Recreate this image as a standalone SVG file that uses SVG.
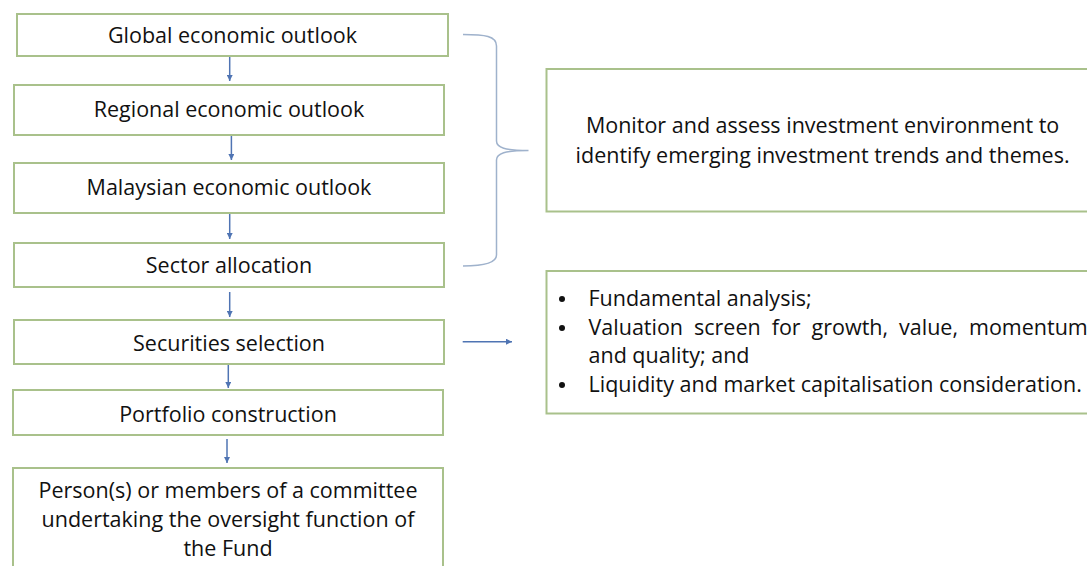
<svg xmlns="http://www.w3.org/2000/svg" width="1087" height="566" viewBox="0 0 1087 566">
  <style>
    .box { fill: #ffffff; stroke: #a9c18b; stroke-width: 2; }
    .t { font-family: "Open Sans", "Liberation Sans", sans-serif; font-size: 21.5px; fill: #111111; }
    .c { text-anchor: middle; }
    .dot { fill: #111111; }
    .conn { stroke: #4f74b3; stroke-width: 1.5; fill: none; marker-end: url(#ah); }
    .brace { stroke: #9fb2cc; stroke-width: 1.5; fill: none; }
  </style>
  <defs>
    <marker id="ah" viewBox="0 0 10 10" refX="10" refY="5" markerWidth="6" markerHeight="6" markerUnits="userSpaceOnUse" orient="auto">
      <path d="M0,0 L10,5 L0,10 z" fill="#4f74b3"/>
    </marker>
  </defs>
  <rect x="0" y="0" width="1087" height="566" fill="#ffffff"/>

  <g id="node-global">
    <rect class="box" x="17" y="14" width="431" height="42"/>
    <text class="t c" x="232.5" y="43">Global economic outlook</text>
  </g>
  <g id="node-regional">
    <rect class="box" x="14" y="85" width="430" height="50"/>
    <text class="t c" x="229" y="117">Regional economic outlook</text>
  </g>
  <g id="node-malaysian">
    <rect class="box" x="14" y="163" width="430" height="50"/>
    <text class="t c" x="229" y="195">Malaysian economic outlook</text>
  </g>
  <g id="node-sector">
    <rect class="box" x="14" y="243" width="430" height="44"/>
    <text class="t c" x="229" y="273">Sector allocation</text>
  </g>
  <g id="node-securities">
    <rect class="box" x="14" y="320" width="430" height="44"/>
    <text class="t c" x="229" y="351">Securities selection</text>
  </g>
  <g id="node-portfolio">
    <rect class="box" x="13" y="390" width="430" height="45"/>
    <text class="t c" x="228" y="422">Portfolio construction</text>
  </g>
  <g id="node-oversight">
    <rect class="box" x="13" y="468" width="430" height="110"/>
    <text class="t c" x="228" y="498">Person(s) or members of a committee</text>
    <text class="t c" x="228" y="527">undertaking the oversight function of</text>
    <text class="t c" x="228" y="556">the Fund</text>
  </g>
  <g id="node-monitor">
    <rect class="box" x="546.5" y="69" width="560" height="142.5"/>
    <text class="t c" x="822.6" y="133">Monitor and assess investment environment to</text>
    <text class="t c" x="822.6" y="162.5">identify emerging investment trends and themes.</text>
  </g>
  <g id="node-analysis">
    <rect class="box" x="546.5" y="271" width="560" height="142.5"/>
    <circle class="dot" cx="562" cy="299" r="3"/>
    <circle class="dot" cx="562" cy="328" r="3"/>
    <circle class="dot" cx="562" cy="385" r="3"/>
    <text class="t" x="588.5" y="306">Fundamental analysis;</text>
    <text class="t" x="588.5" y="335" word-spacing="5.4">Valuation screen for growth, value, momentum</text>
    <text class="t" x="588.5" y="363">and quality; and</text>
    <text class="t" x="588.5" y="392">Liquidity and market capitalisation consideration.</text>
  </g>

  <g id="connectors">
    <line class="conn" x1="229.7" y1="57" x2="229.7" y2="81"/>
    <line class="conn" x1="231.4" y1="136" x2="231.4" y2="160"/>
    <line class="conn" x1="229.7" y1="214" x2="229.7" y2="239"/>
    <line class="conn" x1="229.7" y1="292" x2="229.7" y2="317"/>
    <line class="conn" x1="228.3" y1="365" x2="228.3" y2="388"/>
    <line class="conn" x1="227" y1="439" x2="227" y2="463"/>
    <line class="conn" x1="462.7" y1="341.7" x2="512" y2="341.7"/>
    <path class="brace" d="M463,34.5 C485,34.5 496.5,36 496.5,46 L496.5,141 C496.5,147.5 505,150.5 528.5,150.5 C505,150.5 496.5,153.5 496.5,160 L496.5,255 C496.5,263 485,266 463,266"/>
  </g>
</svg>
